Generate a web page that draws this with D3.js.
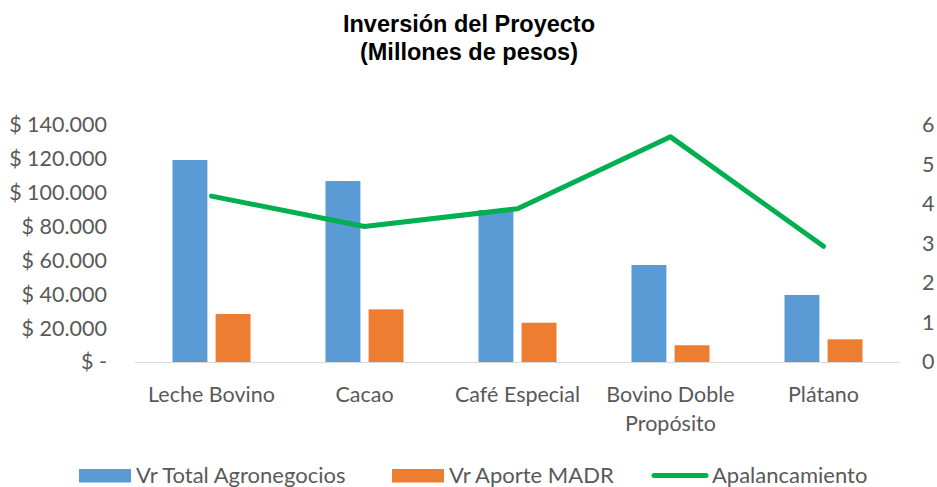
<!DOCTYPE html>
<html>
<head>
<meta charset="utf-8">
<script src="https://cdn.jsdelivr.net/npm/d3@7"></script>
<style>
  body { margin: 0; background: #fff; }
  text { font-family: Lato, "Open Sans", sans-serif; fill: #595959; }
</style>
</head>
<body>
<div id="main"></div>
<script>
// data (millones de pesos)
const categories = ["Leche Bovino", "Cacao", "Café Especial", "Bovino Doble Propósito", "Plátano"];
const totalAgro = [119300, 106900, 89800, 57300, 39600];
const aporteMadr = [28400, 31100, 23200, 9900, 13400];
const apalancamiento = [4.2, 3.43, 3.88, 5.7, 2.93];
const seriesNames = ["Vr Total Agronegocios", "Vr Aporte MADR", "Apalancamiento"];
const leftTicks = [0, 20000, 40000, 60000, 80000, 100000, 120000, 140000];
const rightTicks = [0, 1, 2, 3, 4, 5, 6];

const width = 937, height = 487;
const margin = { top: 125, bottom: 125, left: 135, right: 37 };
const colors = ["#5B9BD5", "#ED7D31", "#00B050"];

const svg = d3.select("#main").append("svg")
  .attr("width", width)
  .attr("height", height);

// title
const title = svg.append("text")
  .attr("x", 469)
  .attr("text-anchor", "middle")
  .style("font-family", "'Liberation Sans', Arial, sans-serif")
  .style("font-weight", "bold")
  .style("font-size", "23.5px")
  .style("fill", "#000");
title.append("tspan").attr("x", 469).attr("y", 32).text("Inversión del Proyecto");
title.append("tspan").attr("x", 469).attr("y", 60).text("(Millones de pesos)");

const x0 = d3.scaleBand()
  .domain(categories)
  .range([margin.left, width - margin.right])
  .paddingInner(0.49)
  .paddingOuter(0.245);

const x1 = d3.scaleBand()
  .domain([0, 1])
  .range([0, x0.bandwidth()])
  .paddingInner(0.19);

const y = d3.scaleLinear()
  .domain([0, 140000])
  .range([height - margin.bottom, margin.top]);

const y2 = d3.scaleLinear()
  .domain([0, 6])
  .range([height - margin.bottom, margin.top]);

const fmt = d => d === 0 ? "$ -" : "$ " + d3.format(",")(d).replace(/,/g, ".");

// left axis
svg.append("g")
  .attr("transform", "translate(107,0)")
  .call(d3.axisLeft(y).tickValues(leftTicks).tickFormat(fmt).tickSize(0).tickPadding(0))
  .call(g => g.select(".domain").remove())
  .selectAll("text")
    .style("font-size", "21.5px")
    .style("fill", "#595959")
    .style("font-family", "Lato, sans-serif");

// right axis
svg.append("g")
  .attr("transform", "translate(922,0)")
  .call(d3.axisRight(y2).tickValues(rightTicks).tickFormat(d3.format("d")).tickSize(0).tickPadding(0))
  .call(g => g.select(".domain").remove())
  .selectAll("text")
    .style("font-size", "21.5px")
    .style("fill", "#595959")
    .style("font-family", "Lato, sans-serif");

// bars
const barData = categories.map((c, i) => [totalAgro[i], aporteMadr[i]]);
svg.append("g")
  .selectAll("g")
  .data(barData)
  .join("g")
    .attr("transform", (d, i) => `translate(${x0(categories[i])},0)`)
  .selectAll("rect")
  .data(d => d)
  .join("rect")
    .attr("x", (d, j) => x1(j))
    .attr("y", d => y(d))
    .attr("width", x1.bandwidth())
    .attr("height", d => y(0) - y(d))
    .attr("fill", (d, j) => colors[j]);

// baseline
svg.append("line")
  .attr("x1", margin.left)
  .attr("x2", width - margin.right)
  .attr("y1", y(0) + 0.5)
  .attr("y2", y(0) + 0.5)
  .attr("stroke", "#d9d9d9")
  .attr("stroke-width", 1);

// category labels
svg.append("g")
  .attr("transform", `translate(0,${y(0)})`)
  .call(d3.axisBottom(x0).tickSize(0).tickPadding(0))
  .call(g => g.select(".domain").remove())
  .selectAll("text")
    .style("font-size", "21.5px")
    .style("fill", "#595959")
    .style("font-family", "Lato, sans-serif")
    .attr("dy", null)
    .attr("y", 40)
    .call(wrap, x0.step() - 4);

function wrap(texts, w) {
  texts.each(function() {
    const t = d3.select(this);
    const words = t.text().split(/\s+/);
    t.text(null);
    let line = [];
    let tspan = t.append("tspan").attr("x", 0).attr("y", 40);
    let n = 0;
    words.forEach(word => {
      line.push(word);
      tspan.text(line.join(" "));
      if (tspan.node().getComputedTextLength() > w && line.length > 1) {
        line.pop();
        tspan.text(line.join(" "));
        line = [word];
        n++;
        tspan = t.append("tspan").attr("x", 0).attr("y", 40 + n * 28.5).text(word);
      }
    });
  });
}

// line series
const line = d3.line()
  .x((d, i) => x0(categories[i]) + x0.bandwidth() / 2)
  .y(d => y2(d));

svg.append("path")
  .datum(apalancamiento)
  .attr("d", line)
  .attr("fill", "none")
  .attr("stroke", colors[2])
  .attr("stroke-width", 5)
  .attr("stroke-linejoin", "round")
  .attr("stroke-linecap", "round");

// legend
const legendX = [79, 392, 652];
const legend = svg.append("g");
seriesNames.forEach((name, i) => {
  const g = legend.append("g").attr("transform", `translate(${legendX[i]},0)`);
  if (i < 2) {
    g.append("rect")
      .attr("x", 0).attr("y", 469)
      .attr("width", 52).attr("height", 13.5)
      .attr("fill", colors[i]);
    g.append("text").attr("x", 57).attr("y", 483).text(name)
      .style("font-size", "22px");
  } else {
    g.append("line")
      .attr("x1", 2).attr("x2", 54)
      .attr("y1", 475.5).attr("y2", 475.5)
      .attr("stroke", colors[2])
      .attr("stroke-width", 5)
      .attr("stroke-linecap", "round");
    g.append("text").attr("x", 60).attr("y", 483).text(name)
      .style("font-size", "22px");
  }
});
</script>
</body>
</html>
